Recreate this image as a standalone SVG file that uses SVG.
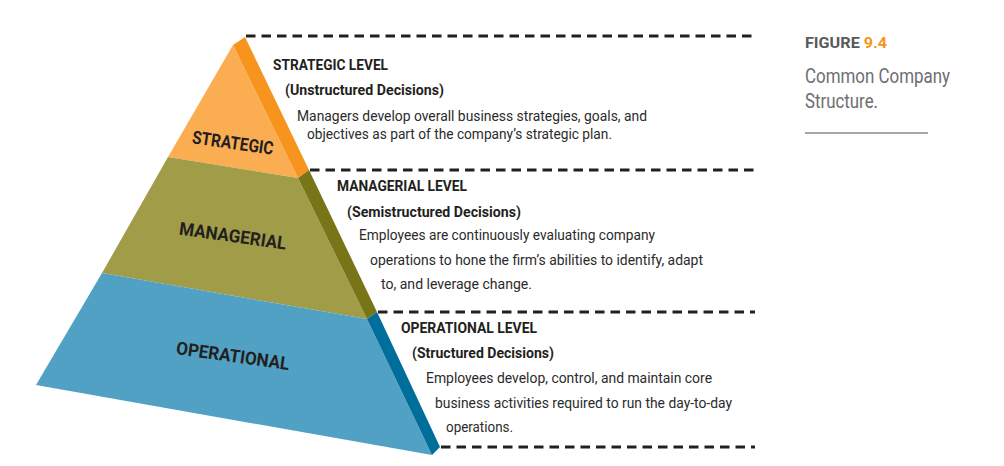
<svg xmlns="http://www.w3.org/2000/svg" width="1004" height="466" viewBox="0 0 1004 466">
<style>
.dash{stroke:#231f20;stroke-width:3;stroke-dasharray:9.5 6;fill:none}
.lbl{font-family:Roboto,"Liberation Sans",sans-serif;font-weight:bold;font-size:18px;fill:#231f20}
.hd{font-family:Roboto,"Liberation Sans",sans-serif;font-weight:bold;font-size:15px;fill:#231f20}
.bd{font-family:Roboto,"Liberation Sans",sans-serif;font-size:15px;fill:#2b2b2b}
.cap{font-family:Roboto,"Liberation Sans",sans-serif;font-size:19.5px;fill:#6d6e70}
</style>
<rect width="1004" height="466" fill="#ffffff"/>
<g id="connectors">
<line class="dash" x1="246" y1="36" x2="755" y2="36"/>
<line class="dash" x1="310" y1="170" x2="755" y2="170"/>
<line class="dash" x1="378" y1="312" x2="755" y2="312"/>
<line class="dash" x1="441" y1="447" x2="755" y2="447"/>
</g>
<g id="strategic">
<polygon points="233,45 298,178 168,157" fill="#fbad52"/>
<polygon points="233,45 245,37 309,170 298,178" fill="#f7941d"/>
<text class="lbl" transform="translate(232,149) rotate(8)" text-anchor="middle" textLength="82" lengthAdjust="spacingAndGlyphs">STRATEGIC</text>
</g>
<g id="managerial">
<polygon points="168,157 298,178 367,319 102,273" fill="#a09c48"/>
<polygon points="298,178 309,170 377,312 367,319" fill="#787519"/>
<text class="lbl" transform="translate(232,242) rotate(8)" text-anchor="middle" textLength="108" lengthAdjust="spacingAndGlyphs">MANAGERIAL</text>
</g>
<g id="operational">
<polygon points="102,273 367,319 432,455 36,385" fill="#50a1c4"/>
<polygon points="367,319 377,312 440,447 432,455" fill="#006e9a"/>
<text class="lbl" transform="translate(232,362) rotate(8)" text-anchor="middle" textLength="114" lengthAdjust="spacingAndGlyphs">OPERATIONAL</text>
</g>
<g id="strategic-text">
<text class="hd" x="273" y="70" textLength="115" lengthAdjust="spacingAndGlyphs">STRATEGIC LEVEL</text>
<text class="hd" x="285" y="95" textLength="159" lengthAdjust="spacingAndGlyphs">(Unstructured Decisions)</text>
<text class="bd" x="297" y="120.5" textLength="350" lengthAdjust="spacingAndGlyphs">Managers develop overall business strategies, goals, and</text>
<text class="bd" x="307" y="139" textLength="305" lengthAdjust="spacingAndGlyphs">objectives as part of the company’s strategic plan.</text>
</g>
<g id="managerial-text">
<text class="hd" x="337" y="191" textLength="130" lengthAdjust="spacingAndGlyphs">MANAGERIAL LEVEL</text>
<text class="hd" x="347" y="217" textLength="174" lengthAdjust="spacingAndGlyphs">(Semistructured Decisions)</text>
<text class="bd" x="359" y="240" textLength="296" lengthAdjust="spacingAndGlyphs">Employees are continuously evaluating company</text>
<text class="bd" x="370" y="264.5" textLength="333" lengthAdjust="spacingAndGlyphs">operations to hone the firm’s abilities to identify, adapt</text>
<text class="bd" x="381" y="288.5" textLength="151" lengthAdjust="spacingAndGlyphs">to, and leverage change.</text>
</g>
<g id="operational-text">
<text class="hd" x="401" y="333" textLength="136" lengthAdjust="spacingAndGlyphs">OPERATIONAL LEVEL</text>
<text class="hd" x="412" y="358" textLength="142" lengthAdjust="spacingAndGlyphs">(Structured Decisions)</text>
<text class="bd" x="426" y="383" textLength="286" lengthAdjust="spacingAndGlyphs">Employees develop, control, and maintain core</text>
<text class="bd" x="435" y="407.5" textLength="297" lengthAdjust="spacingAndGlyphs">business activities required to run the day-to-day</text>
<text class="bd" x="446" y="432" textLength="67" lengthAdjust="spacingAndGlyphs">operations.</text>
</g>
<g id="caption">
<text x="805" y="48" font-family="Roboto,'Liberation Sans',sans-serif" font-weight="bold" font-size="14.5px" fill="#58595b" textLength="82" lengthAdjust="spacingAndGlyphs">FIGURE <tspan fill="#f7941d">9.4</tspan></text>
<text class="cap" x="805" y="83" textLength="145" lengthAdjust="spacingAndGlyphs">Common Company</text>
<text class="cap" x="805" y="108" textLength="73" lengthAdjust="spacingAndGlyphs">Structure.</text>
<line x1="805" y1="133" x2="928" y2="133" stroke="#8a8a8a" stroke-width="1.3"/>
</g>
</svg>
